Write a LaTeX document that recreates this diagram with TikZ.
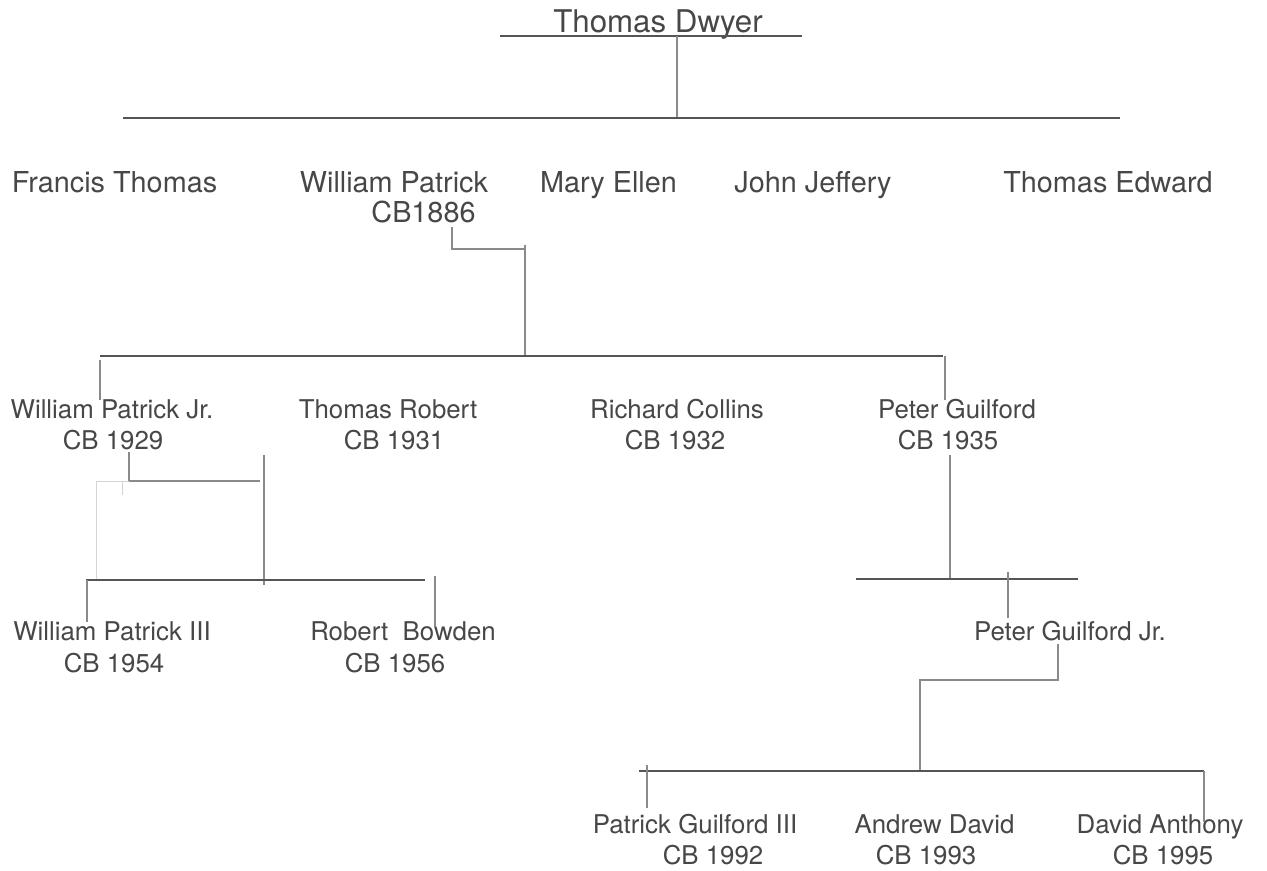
\documentclass[tikz,border=0pt]{standalone}
\usepackage{fontspec}
\setmainfont{TeX Gyre Heros}
\definecolor{txt}{HTML}{474747}
\definecolor{ln}{HTML}{555555}
\definecolor{lnl}{HTML}{8A8A8A}
\definecolor{faint}{HTML}{D4D4D4}
\begin{document}
\begin{tikzpicture}[x=0.02cm,y=-0.02cm,
 lbl/.style={anchor=base,inner sep=0pt,text=txt},
 ttl/.style={lbl,font=\fontsize{17.8}{20}\selectfont},
 gtwo/.style={lbl,font=\fontsize{16.4}{19}\selectfont},
 gen/.style={lbl,font=\fontsize{14.7}{17}\selectfont},
 bar/.style={draw=ln,line width=0.9pt},
 link/.style={draw=lnl,line width=0.6pt},
 ghost/.style={draw=faint,line width=0.5pt}]
\fill[white] (0,0) rectangle (1267,871);
\useasboundingbox (0,0) rectangle (1267,871);

% ---- people ----
\node[ttl] (td) at (658,33) {Thomas Dwyer};

\node[gtwo] (ft) at (114.5,193) {Francis Thomas};
\node[gtwo] (wp) at (394,193) {William Patrick};
\node[gtwo] (wpy) at (423.5,223) {CB1886};
\node[gtwo] (me) at (608.5,193) {Mary Ellen};
\node[gtwo] (jj) at (813,193) {John Jeffery};
\node[gtwo] (te) at (1108,193) {Thomas Edward};

\node[gen] (wpj) at (112,418) {William Patrick Jr.};
\node[gen] (wpjy) at (113,449) {CB 1929};
\node[gen] (tr) at (388,418) {Thomas Robert};
\node[gen] (try) at (394,449) {CB 1931};
\node[gen] (rc) at (677,418) {Richard Collins};
\node[gen] (rcy) at (675,449) {CB 1932};
\node[gen] (pg) at (957,418) {Peter Guilford};
\node[gen] (pgy) at (948,449) {CB 1935};

\node[gen] (wp3) at (112,640) {William Patrick III};
\node[gen] (wp3y) at (114,672) {CB 1954};
\node[gen] (rb) at (403,640) {Robert\ \ Bowden};
\node[gen] (rby) at (395,672) {CB 1956};
\node[gen] (pgj) at (1070,640) {Peter Guilford Jr.};

\node[gen] (pg3) at (695,833) {Patrick Guilford III};
\node[gen] (pg3y) at (713,864) {CB 1992};
\node[gen] (ad) at (934.5,833) {Andrew David};
\node[gen] (ady) at (926,864) {CB 1993};
\node[gen] (da) at (1160,833) {David Anthony};
\node[gen] (day) at (1163,864) {CB 1995};

% ---- junction points ----
\coordinate (ulL) at (500,36);  \coordinate (ulR) at (802,36);
\coordinate (tdA) at (677,36);  \coordinate (tdB) at (677,118);
\coordinate (g2L) at (123,118); \coordinate (g2R) at (1120,118);

\coordinate (wpA) at (452,227); \coordinate (wpB) at (525,249);
\coordinate (wpC) at (525,245); \coordinate (wpD) at (525,356);
\coordinate (g3L) at (100,356); \coordinate (g3R) at (943,356);
\coordinate (wpjA) at (100,360); \coordinate (wpjB) at (100,400);
\coordinate (pgA) at (945,356); \coordinate (pgB) at (945,400);

\coordinate (wjA) at (129,452); \coordinate (wjB) at (129,481); \coordinate (wjC) at (260,481);
\coordinate (wjF) at (96,481);  \coordinate (wjG) at (96,580);
\coordinate (wjH) at (122,481); \coordinate (wjI) at (122,495);
\coordinate (wjD) at (264,455); \coordinate (wjE) at (264,585);
\coordinate (g4L) at (86,580);  \coordinate (g4R) at (425,580);
\coordinate (w3A) at (87,580);  \coordinate (w3B) at (87,622);
\coordinate (rbA) at (435,576); \coordinate (rbB) at (435,627);

\coordinate (pgC) at (950,455); \coordinate (pgD) at (950,579);
\coordinate (pjL) at (856,579); \coordinate (pjR) at (1078,579);
\coordinate (pjA) at (1008,572); \coordinate (pjB) at (1008,618);
\coordinate (pjC) at (1058,644); \coordinate (pjD) at (920,680);
\coordinate (pjE) at (920,771);
\coordinate (g5L) at (639,771); \coordinate (g5R) at (1204,771);
\coordinate (p3A) at (647,765); \coordinate (p3B) at (647,808);
\coordinate (daA) at (1204,771); \coordinate (daB) at (1204,822);

% ---- lines ----
\draw[bar] (ulL) -- (ulR);
\draw[link] (tdA) -- (tdB);
\draw[bar] (g2L) -- (g2R);

\draw[link] (wpA) |- (wpB);
\draw[link] (wpC) -- (wpD);
\draw[bar] (g3L) -- (g3R);
\draw[link] (wpjA) -- (wpjB);
\draw[link] (pgA) -- (pgB);

\draw[link] (wjA) -- (wjB) -- (wjC);
\draw[ghost] (wjF) -- (wjB);
\draw[ghost] (wjF) -- (wjG);
\draw[ghost] (wjH) -- (wjI);
\draw[link] (wjD) -- (wjE);
\draw[bar] (g4L) -- (g4R);
\draw[link] (w3A) -- (w3B);
\draw[link] (rbA) -- (rbB);

\draw[link] (pgC) -- (pgD);
\draw[bar] (pjL) -- (pjR);
\draw[link] (pjA) -- (pjB);
\draw[link] (pjC) |- (pjD) -- (pjE);
\draw[bar] (g5L) -- (g5R);
\draw[link] (p3A) -- (p3B);
\draw[link] (daA) -- (daB);
\end{tikzpicture}
\end{document}
